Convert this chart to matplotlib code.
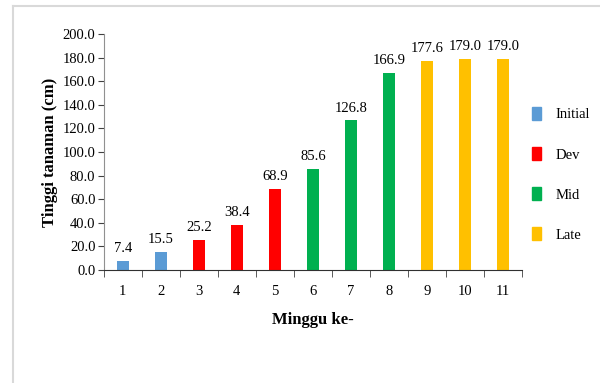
from matplotlib import pyplot as plt
from matplotlib.lines import Line2D
from matplotlib.patches import Patch

weeks = ['1', '2', '3', '4', '5', '6', '7', '8', '9', '10', '11']
heights = [7.4, 15.5, 25.2, 38.4, 68.9, 85.6, 126.8, 166.9, 177.6, 179.0, 179.0]
stages = ['Initial', 'Initial', 'Dev', 'Dev', 'Dev', 'Mid', 'Mid', 'Mid', 'Late', 'Late', 'Late']
stage_names = ['Initial', 'Dev', 'Mid', 'Late']
stage_colors = {'Initial': '#5B9BD5', 'Dev': '#FF0000', 'Mid': '#00B050', 'Late': '#FFC000'}

plt.rcParams['font.family'] = 'Liberation Serif'

fig = plt.figure(figsize=(6, 3.83), dpi=100)
ax = fig.add_axes([0.173, 0.295, 0.697, 0.616])

x = list(range(1, len(weeks) + 1))
cols = [stage_colors[s] for s in stages]
bars = ax.bar(x, heights, width=0.33, color=cols)
for xi, h in zip(x, heights):
    ax.text(xi, h + 5, '%.1f' % h, ha='center', va='bottom', fontsize=10.5)

ax.set_xlim(0.5, len(weeks) + 0.5)
ax.set_ylim(0, 200)
ax.set_yticks(range(0, 201, 20))
ax.set_yticklabels(['%.1f' % v for v in range(0, 201, 20)], fontsize=10.5)
ax.set_xticks(x)
ax.set_xticklabels(weeks, fontsize=10.5)
ax.tick_params(axis='x', which='major', length=0, pad=11)
ax.set_xticks([i + 0.5 for i in range(0, len(weeks) + 1)], minor=True)
ax.tick_params(axis='x', which='minor', length=5, color='#404040')
ax.tick_params(axis='y', length=4, color='#404040', pad=2)
for s in ['top', 'right']:
    ax.spines[s].set_visible(False)
ax.spines['left'].set_color('#909090')
ax.spines['bottom'].set_color('#303030')

ax.set_ylabel('Tinggi tanaman (cm)', fontsize=12, fontweight='bold', labelpad=3)
ax.set_xlabel('Minggu ke-', fontsize=12, fontweight='bold', labelpad=10)

handles = [Patch(color=stage_colors[n], label=n) for n in stage_names]
fig.legend(handles=handles, loc='center left', bbox_to_anchor=(0.865, 0.545),
           frameon=False, fontsize=10.5, handlelength=0.6, handleheight=1.0,
           labelspacing=1.75, handletextpad=1.0)

# outer frame lines
fig.add_artist(Line2D([0.022, 0.022], [0, 0.984], color='#d9d9d9', lw=1.5))
fig.add_artist(Line2D([0.022, 1], [0.984, 0.984], color='#d9d9d9', lw=1.5))

fig.savefig('out.png', dpi=100)
